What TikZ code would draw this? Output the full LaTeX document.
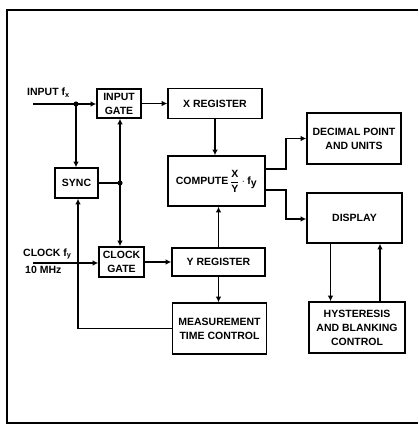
\documentclass[tikz,border=0pt]{standalone}
\usepackage{fontspec}
\setmainfont{Liberation Sans}
\usetikzlibrary{arrows.meta,calc}
\begin{document}
\begin{tikzpicture}[x=1pt,y=-1pt,
  box/.style={draw,line width=1.6pt,rectangle,align=center,inner sep=1pt,
    font=\fontsize{10.5}{14}\selectfont\bfseries},
  lab/.style={font=\fontsize{10.5}{12}\selectfont\bfseries,inner sep=0pt},
  con/.style={line width=1.5pt},
  arr/.style={con,-{Latex[length=5.5pt,width=5.5pt]}}]
\useasboundingbox (0,0) rectangle (418,425);
% frame
\draw[line width=1.8pt] (418,10) -- (7,10) -- (7,423) -- (418,423);
% boxes
\node[box,minimum width=44pt,minimum height=29pt] (ingate) at (119,103.5) {INPUT\\GATE};
\node[box,minimum width=94pt,minimum height=30pt] (xreg) at (215,103.5) {X REGISTER};
\node[box,minimum width=43pt,minimum height=30pt] (sync) at (76.5,183) {SYNC};
\node[box,minimum width=45pt,minimum height=30pt] (clkgate) at (121.5,262) {CLOCK\\GATE};
\node[box,minimum width=93pt,minimum height=28pt] (yreg) at (218.5,262) {Y REGISTER};
\node[box,minimum width=94pt,minimum height=51pt] (meas) at (219.5,328.5) {MEASUREMENT\\TIME CONTROL};
\node[box,minimum width=97pt,minimum height=50pt] (compute) at (216.5,181)
  {COMPUTE\,$\displaystyle\frac{\textbf{X}}{\textbf{Y}}\cdot\textbf{f}_{\textbf{y}}$};
\node[box,minimum width=94pt,minimum height=51pt] (dec) at (354,138.5) {DECIMAL POINT\\AND UNITS};
\node[box,minimum width=95pt,minimum height=50pt] (disp) at (354.5,218) {DISPLAY};
\node[box,minimum width=96pt,minimum height=51pt] (hyst) at (357,327.5) {HYSTERESIS\\AND BLANKING\\CONTROL};
% labels
\node[lab,anchor=west] (inlab) at (27,93) {INPUT f\textsubscript{x}};
\node[lab,anchor=west] (clklab) at (23,254) {CLOCK f\textsubscript{y}};
\node[lab,anchor=west] (mhz) at (25,270) {10 MHz};
% junctions
\coordinate (inS) at (33,104);
\coordinate (clkS) at (33,263);
\coordinate (j1) at (76,104);
\coordinate (j2) at (120,183);
% connectors
\draw[con] (inS) -- (j1);
\draw[arr] (j1) -- (ingate.west |- j1);
\draw[arr] (j1) -- (j1 |- sync.north);
\draw[arr] (ingate.east) -- (xreg.west);
\draw[con] (sync.east) -- (j2);
\draw[arr] (j2) -- (j2 |- ingate.south);
\draw[arr] (j2) -- (j2 |- clkgate.north);
\draw[arr] (clkS) -- (clkgate.west |- clkS);
\draw[arr] (clkgate.east) -- (yreg.west |- clkgate.east);
\draw[arr] (meas.west) -| ([xshift=1.5pt]sync.south);
\draw[arr] (xreg.south) -- (xreg.south |- compute.north);
\draw[arr] (yreg.north) -- (yreg.north |- compute.south);
\draw[arr] (yreg.south) -- (yreg.south |- meas.north);
\draw[arr] ([yshift=12pt]compute.east) -- ++(20,0) |- (dec.west);
\draw[arr] ([yshift=-9pt]compute.east) -- ++(20,0) |- ([yshift=-1pt]disp.west);
\draw[arr] ([xshift=-24pt]disp.south) -- ([xshift=-24pt]disp.south |- hyst.north);
\draw[arr] ([xshift=25.5pt]disp.south |- hyst.north) -- ([xshift=25.5pt]disp.south);
\fill (j1) circle (2.6pt);
\fill (j2) circle (2.6pt);
\end{tikzpicture}
\end{document}
